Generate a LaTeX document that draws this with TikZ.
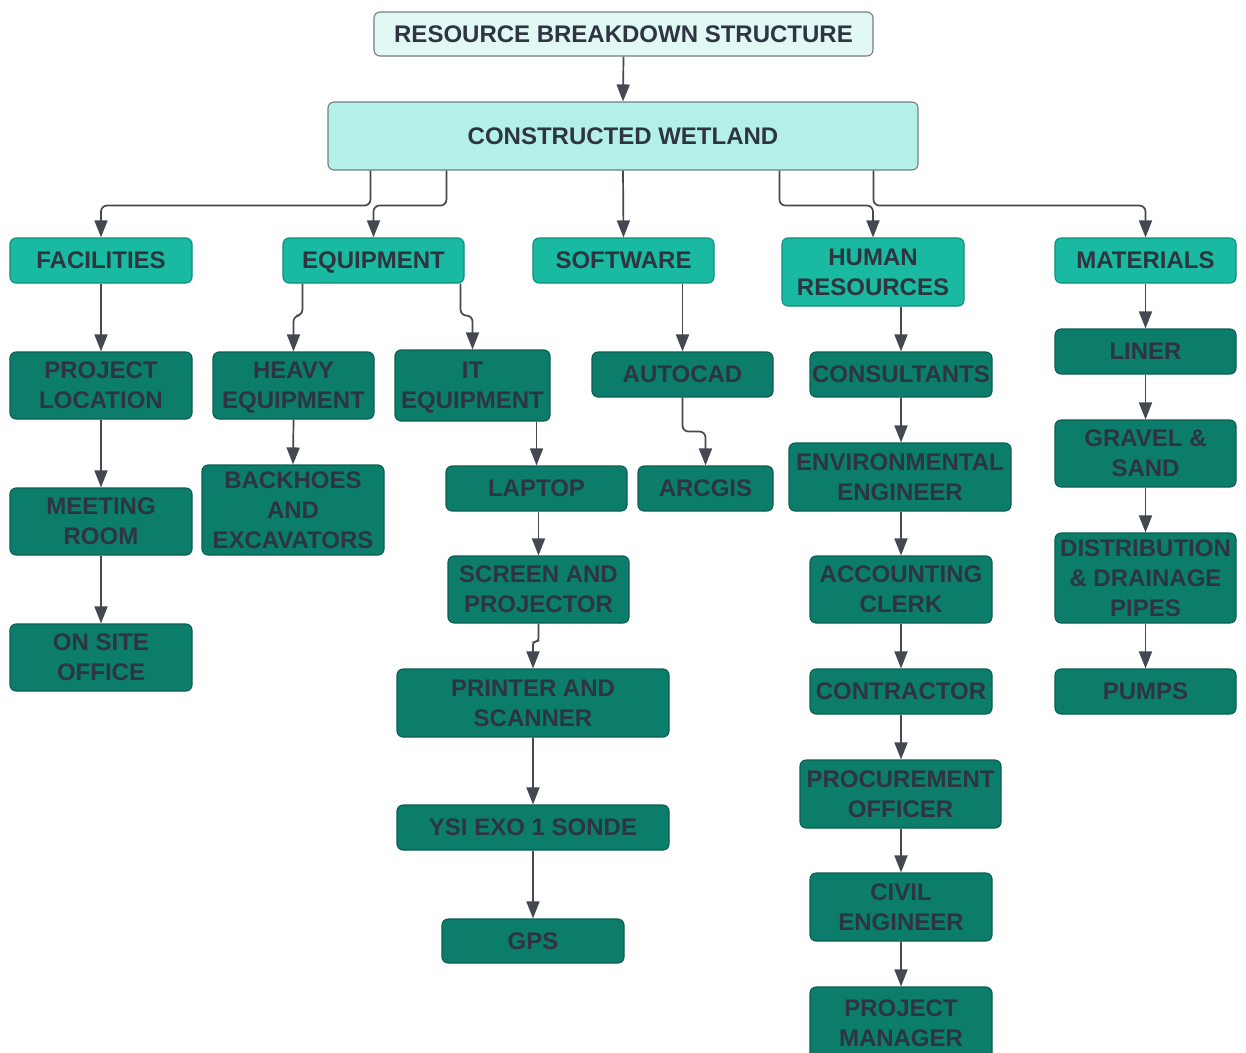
\documentclass[tikz,border=0pt]{standalone}
\usepackage{fontspec}
\setmainfont{Liberation Sans}
\usetikzlibrary{arrows.meta}

\definecolor{inkdark}{HTML}{2E3440}
\definecolor{wirec}{HTML}{444851}
\definecolor{titlefill}{HTML}{E2F8F5}
\definecolor{rootfill}{HTML}{B3F0E9}
\definecolor{topborder}{HTML}{70807E}
\definecolor{catfill}{HTML}{19BAA1}
\definecolor{catborder}{HTML}{0E8D79}
\definecolor{itemfill}{HTML}{0B7D6A}
\definecolor{itemborder}{HTML}{095E50}

\tikzset{
  basebox/.style={rectangle, rounded corners=6pt, inner sep=0pt, line width=1.1pt},
  titlebox/.style={basebox, fill=titlefill, draw=topborder},
  rootbox/.style={basebox, fill=rootfill, draw=topborder},
  catbox/.style={basebox, fill=catfill, draw=catborder},
  itembox/.style={basebox, fill=itemfill, draw=itemborder},
  txt/.style={inner sep=0pt, align=center, text=inkdark, text depth=0pt,
    font=\fontsize{24}{30}\selectfont\bfseries},
  conn/.style={draw=wirec, line width=1.7pt, rounded corners=6pt,
    -{Triangle[width=13pt,length=17pt]}},
}

% box from its corner coordinates (x1,y1,x2,y2), with a centred label
\newcommand\wbsbox[7]{%
  \pgfmathsetmacro\wbscx{(#3+#5)/2}%
  \pgfmathsetmacro\wbscy{(#4+#6)/2}%
  \pgfmathsetmacro\wbsw{#5-#3}%
  \pgfmathsetmacro\wbsh{#6-#4}%
  \node[#2, minimum width=\wbsw pt, minimum height=\wbsh pt] (#1) at (\wbscx,\wbscy) {};
  \node[txt] (#1-t) at (#1.center) {#7};%
}

\begin{document}
\begin{tikzpicture}[x=1pt, y=-1pt]
\useasboundingbox (0,0) rectangle (1246,1052);

% top of the hierarchy
\wbsbox{title}{titlebox}{374}{12}{873}{56}{RESOURCE BREAKDOWN STRUCTURE}
\wbsbox{wet}{rootbox}{328}{102}{918}{170}{CONSTRUCTED WETLAND}

% categories
\wbsbox{fac}{catbox}{10}{238}{192}{283}{FACILITIES}
\wbsbox{equ}{catbox}{283}{238}{464}{283}{EQUIPMENT}
\wbsbox{sof}{catbox}{533}{238}{714}{283}{SOFTWARE}
\wbsbox{hr}{catbox}{782}{238}{964}{306}{HUMAN\\RESOURCES}
\wbsbox{mat}{catbox}{1055}{238}{1236}{283}{MATERIALS}

% facilities
\wbsbox{ploc}{itembox}{10}{352}{192}{419}{PROJECT\\LOCATION}
\wbsbox{meet}{itembox}{10}{488}{192}{555}{MEETING\\ROOM}
\wbsbox{site}{itembox}{10}{624}{192}{691}{ON SITE\\OFFICE}

% equipment
\wbsbox{heavy}{itembox}{213}{352}{374}{419}{HEAVY\\EQUIPMENT}
\wbsbox{back}{itembox}{202}{465}{384}{555}{BACKHOES\\AND\\EXCAVATORS}
\wbsbox{it}{itembox}{395}{350}{550}{421}{IT\\EQUIPMENT}
\wbsbox{lap}{itembox}{446}{466}{627}{511}{LAPTOP}
\wbsbox{scr}{itembox}{448}{556}{629}{623}{SCREEN AND\\PROJECTOR}
\wbsbox{pri}{itembox}{397}{669}{669}{737}{PRINTER AND\\SCANNER}
\wbsbox{ysi}{itembox}{397}{805}{669}{850}{YSI EXO 1 SONDE}
\wbsbox{gps}{itembox}{442}{919}{624}{963}{GPS}

% software
\wbsbox{aut}{itembox}{592}{352}{773}{397}{AUTOCAD}
\wbsbox{arc}{itembox}{638}{466}{773}{511}{ARCGIS}

% human resources
\wbsbox{cons}{itembox}{810}{352}{992}{397}{CONSULTANTS}
\wbsbox{env}{itembox}{789}{443}{1011}{511}{ENVIRONMENTAL\\ENGINEER}
\wbsbox{acc}{itembox}{810}{556}{992}{623}{ACCOUNTING\\CLERK}
\wbsbox{ctr}{itembox}{810}{669}{992}{714}{CONTRACTOR}
\wbsbox{proc}{itembox}{800}{760}{1001}{828}{PROCUREMENT\\OFFICER}
\wbsbox{civ}{itembox}{810}{873}{992}{941}{CIVIL\\ENGINEER}
\wbsbox{pm}{itembox}{810}{987}{992}{1060}{PROJECT\\MANAGER}

% materials
\wbsbox{lin}{itembox}{1055}{329}{1236}{374}{LINER}
\wbsbox{grav}{itembox}{1055}{420}{1236}{487}{GRAVEL \&\\SAND}
\wbsbox{pipe}{itembox}{1055}{533}{1236}{623}{DISTRIBUTION\\\& DRAINAGE\\PIPES}
\wbsbox{pump}{itembox}{1055}{669}{1236}{714}{PUMPS}

% connectors: top levels
\draw[conn] (title.south) -- (wet.north);
\draw[conn] ([xshift=43pt]wet.south west) -- ++(0,35) -| (fac.north);
\draw[conn] ([xshift=119pt]wet.south west) -- ++(0,35) -| (equ.north);
\draw[conn] (wet.south) -- (sof.north);
\draw[conn] ([xshift=452pt]wet.south west) -- ++(0,35) -| (hr.north);
\draw[conn] ([xshift=546pt]wet.south west) -- ++(0,35) -| (mat.north);

% facilities
\draw[conn] (fac.south) -- (ploc.north);
\draw[conn] (ploc.south) -- (meet.north);
\draw[conn] (meet.south) -- (site.north);

% equipment
\draw[conn] ([xshift=20pt]equ.south west) -- ++(0,32) -| (heavy.north);
\draw[conn] ([xshift=-4pt]equ.south east) -- ++(0,32) -| (it.north);
\draw[conn] (heavy.south) -- (back.north);
\draw[conn] (lap.north |- it.south) -- (lap.north);
\draw[conn] (scr.north |- lap.south) -- (scr.north);
\draw[conn, rounded corners=3pt] (scr.south) -- ++(0,18) -| (pri.north);
\draw[conn] (pri.south) -- (ysi.north);
\draw[conn] (ysi.south) -- (gps.north);

% software
\draw[conn] (aut.north |- sof.south) -- (aut.north);
\draw[conn] (aut.south) -- ++(0,34) -| (arc.north);

% human resources
\draw[conn] (cons.north |- hr.south) -- (cons.north);
\draw[conn] (cons.south) -- (cons.south |- env.north);
\draw[conn] (acc.north |- env.south) -- (acc.north);
\draw[conn] (ctr.north |- acc.south) -- (ctr.north);
\draw[conn] (ctr.south) -- (ctr.south |- proc.north);
\draw[conn] (civ.north |- proc.south) -- (civ.north);
\draw[conn] (civ.south) -- (pm.north);

% materials
\draw[conn] (mat.south) -- (lin.north);
\draw[conn] (lin.south) -- (grav.north);
\draw[conn] (grav.south) -- (pipe.north);
\draw[conn] (pipe.south) -- (pump.north);
\end{tikzpicture}
\end{document}
